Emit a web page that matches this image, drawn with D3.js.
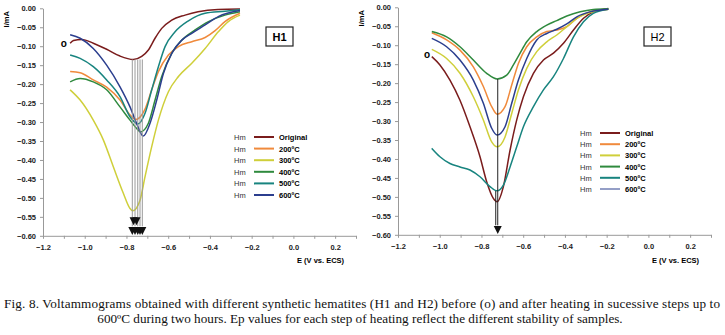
<!DOCTYPE html>
<html>
<head>
<meta charset="utf-8">
<script src="https://cdn.jsdelivr.net/npm/d3@7"></script>
<style>
  body { margin: 0; background: #fff; }
  svg { display: block; }
  .axis path, .axis line { stroke: #999; }
  .axis text { font-family: Arial, "Liberation Sans", sans-serif; font-size: 7.5px; font-weight: bold; fill: #222; }
  .caption { font-family: "Liberation Serif", "Times New Roman", serif; font-size: 13.2px; fill: #111; }
</style>
</head>
<body>
<svg id="chart" width="725" height="335"></svg>
<script>
// series labels and colours (same order in both panels)
const seriesNames = ['Original', '200ºC', '300ºC', '400ºC', '500ºC', '600ºC'];
const seriesColors = ['#7a1c1c', '#f08a3c', '#cfcf3a', '#2f8a3e', '#18847f', '#2b3e8e'];

const xTicks = [-1.2, -1.0, -0.8, -0.6, -0.4, -0.2, 0.0, 0.2];
const yTicks = [0, -0.05, -0.1, -0.15, -0.2, -0.25, -0.3, -0.35, -0.4, -0.45, -0.5, -0.55, -0.6];

// H1 curves: [E (V), I (mA)]
const h1Original = [[-1.07,-0.092],[-1.054,-0.085],[-1.014,-0.082],[-0.959,-0.092],[-0.895,-0.108],[-0.831,-0.126],[-0.767,-0.135],[-0.727,-0.127],[-0.695,-0.110],[-0.663,-0.079],[-0.631,-0.053],[-0.583,-0.031],[-0.519,-0.018],[-0.457,-0.009],[-0.361,-0.003],[-0.256,-0.002]];
const h1T200 = [[-1.07,-0.167],[-1.022,-0.170],[-0.959,-0.189],[-0.895,-0.208],[-0.831,-0.242],[-0.783,-0.281],[-0.755,-0.293],[-0.711,-0.266],[-0.679,-0.215],[-0.647,-0.167],[-0.599,-0.123],[-0.551,-0.101],[-0.487,-0.088],[-0.423,-0.077],[-0.375,-0.059],[-0.328,-0.035],[-0.256,-0.013]];
const h1T300 = [[-1.07,-0.215],[-1.022,-0.242],[-0.959,-0.295],[-0.911,-0.347],[-0.863,-0.418],[-0.815,-0.488],[-0.783,-0.528],[-0.770,-0.534],[-0.735,-0.506],[-0.711,-0.444],[-0.679,-0.365],[-0.647,-0.295],[-0.599,-0.220],[-0.551,-0.180],[-0.487,-0.145],[-0.423,-0.106],[-0.360,-0.062],[-0.312,-0.035],[-0.256,-0.018]];
const h1T400 = [[-1.07,-0.194],[-1.022,-0.185],[-0.959,-0.194],[-0.895,-0.215],[-0.831,-0.260],[-0.783,-0.295],[-0.751,-0.317],[-0.733,-0.326],[-0.695,-0.303],[-0.663,-0.242],[-0.631,-0.180],[-0.583,-0.119],[-0.535,-0.084],[-0.471,-0.057],[-0.407,-0.035],[-0.328,-0.018],[-0.256,-0.009]];
const h1T500 = [[-1.07,-0.123],[-1.022,-0.132],[-0.959,-0.154],[-0.895,-0.189],[-0.831,-0.233],[-0.783,-0.286],[-0.745,-0.305],[-0.711,-0.277],[-0.679,-0.215],[-0.647,-0.154],[-0.615,-0.101],[-0.567,-0.062],[-0.503,-0.033],[-0.423,-0.013],[-0.328,-0.008],[-0.256,-0.004]];
const h1T600 = [[-1.07,-0.070],[-1.022,-0.079],[-0.959,-0.106],[-0.895,-0.150],[-0.831,-0.207],[-0.783,-0.260],[-0.751,-0.304],[-0.720,-0.337],[-0.687,-0.303],[-0.655,-0.242],[-0.623,-0.172],[-0.583,-0.119],[-0.535,-0.084],[-0.487,-0.066],[-0.423,-0.044],[-0.360,-0.022],[-0.256,-0.006]];

// H2 curves
const h2Original = [[-1.038,-0.130],[-0.999,-0.152],[-0.951,-0.192],[-0.903,-0.245],[-0.855,-0.315],[-0.807,-0.394],[-0.775,-0.460],[-0.743,-0.504],[-0.725,-0.513],[-0.695,-0.473],[-0.663,-0.377],[-0.631,-0.297],[-0.599,-0.236],[-0.551,-0.174],[-0.503,-0.139],[-0.455,-0.121],[-0.407,-0.095],[-0.359,-0.060],[-0.311,-0.029],[-0.264,-0.012],[-0.192,-0.003]];
const h2T200 = [[-1.038,-0.067],[-0.967,-0.086],[-0.903,-0.113],[-0.839,-0.157],[-0.791,-0.209],[-0.751,-0.262],[-0.725,-0.282],[-0.687,-0.262],[-0.655,-0.205],[-0.623,-0.148],[-0.583,-0.104],[-0.535,-0.078],[-0.487,-0.064],[-0.439,-0.060],[-0.391,-0.051],[-0.343,-0.029],[-0.280,-0.012],[-0.192,-0.005]];
const h2T300 = [[-1.038,-0.111],[-0.967,-0.135],[-0.903,-0.174],[-0.839,-0.236],[-0.791,-0.297],[-0.751,-0.355],[-0.725,-0.368],[-0.687,-0.342],[-0.655,-0.280],[-0.623,-0.218],[-0.583,-0.161],[-0.535,-0.117],[-0.487,-0.091],[-0.439,-0.073],[-0.391,-0.051],[-0.343,-0.029],[-0.280,-0.014],[-0.192,-0.005]];
const h2T400 = [[-1.038,-0.064],[-0.967,-0.078],[-0.903,-0.104],[-0.839,-0.139],[-0.775,-0.174],[-0.725,-0.189],[-0.679,-0.179],[-0.647,-0.152],[-0.615,-0.121],[-0.583,-0.091],[-0.535,-0.064],[-0.487,-0.047],[-0.439,-0.035],[-0.391,-0.023],[-0.327,-0.012],[-0.264,-0.006],[-0.192,-0.004]];
const h2T500 = [[-1.038,-0.372],[-0.999,-0.394],[-0.951,-0.412],[-0.903,-0.421],[-0.855,-0.429],[-0.807,-0.447],[-0.759,-0.473],[-0.725,-0.484],[-0.695,-0.469],[-0.663,-0.421],[-0.631,-0.368],[-0.599,-0.315],[-0.551,-0.262],[-0.503,-0.218],[-0.455,-0.183],[-0.407,-0.135],[-0.359,-0.078],[-0.311,-0.038],[-0.264,-0.016],[-0.192,-0.005]];
const h2T600 = [[-1.038,-0.082],[-0.967,-0.104],[-0.903,-0.139],[-0.839,-0.192],[-0.791,-0.253],[-0.751,-0.319],[-0.725,-0.337],[-0.687,-0.315],[-0.655,-0.253],[-0.623,-0.192],[-0.583,-0.135],[-0.535,-0.086],[-0.487,-0.069],[-0.439,-0.058],[-0.391,-0.044],[-0.343,-0.025],[-0.280,-0.012],[-0.192,-0.005]];

// peak potentials (Ep) marked with arrows
const h1Ep = [-0.772, -0.759, -0.746, -0.735, -0.724];
const h1EpUpper = [-0.766, -0.752];
const h2Ep = [-0.722];

const svg = d3.select('#chart');
const font = 'Arial, "Liberation Sans", sans-serif';

function drawPanel(opts) {
    const x = d3.scaleLinear().domain([-1.2, 0.3]).range([opts.left, opts.left + 313]);
    const y = d3.scaleLinear().domain([0, -0.6]).range([opts.top, opts.top + 227.5]);
    const g = svg.append('g');

    // axes
    g.append('g')
        .attr('class', 'axis')
        .attr('transform', `translate(0,${y(-0.6)})`)
        .call(d3.axisBottom(x).tickValues(d3.range(-1.2, 0.31, 0.1)).tickSize(3).tickSizeOuter(0)
            .tickFormat(d => xTicks.some(t => Math.abs(t - d) < 1e-6) ? d3.format('.1f')(d) : ''))
        .call(a => a.selectAll('text').attr('dy', '1.1em'));

    g.append('g')
        .attr('class', 'axis')
        .attr('transform', `translate(${x(-1.2)},0)`)
        .call(d3.axisLeft(y).tickValues(yTicks).tickSize(3).tickSizeOuter(0).tickFormat(d3.format('.2f')))
        .call(a => a.selectAll('text').attr('x', -7));

    g.append('text')
        .attr('transform', `translate(${opts.left - 34},${opts.top + 11}) rotate(-90)`)
        .attr('text-anchor', 'middle')
        .attr('font-family', font).attr('font-size', 7.5).attr('font-weight', 'bold')
        .text('I/mA');

    g.append('text')
        .attr('x', x(0.13)).attr('y', 263)
        .attr('text-anchor', 'middle')
        .attr('font-family', font).attr('font-size', 7.5).attr('font-weight', 'bold')
        .text('E (V vs. ECS)');

    // curves
    const line = d3.line()
        .x(d => x(d[0]))
        .y(d => y(d[1]))
        .curve(d3.curveMonotoneX);

    opts.series.forEach((s, i) => {
        g.append('path')
            .attr('d', line(s))
            .attr('fill', 'none')
            .attr('stroke', seriesColors[i])
            .attr('stroke-width', 1.5);
    });

    // Ep guide lines and arrow heads
    const arrow = (ep, tip) => {
        const px = x(ep), py = y(tip);
        g.append('path')
            .attr('d', `M${px - 4},${py - 8}L${px + 4},${py - 8}L${px},${py}Z`)
            .attr('fill', '#111');
    };
    opts.ep.forEach(ep => {
        g.append('line')
            .attr('x1', x(ep)).attr('x2', x(ep))
            .attr('y1', y(opts.epTop)).attr('y2', y(-0.575))
            .attr('stroke', opts.epColor).attr('stroke-width', 1);
        arrow(ep, -0.598);
    });
    opts.epUpper.forEach(ep => arrow(ep, -0.572));
    if (opts.double) {
        g.append('line')
            .attr('x1', x(opts.ep[0]) - 2).attr('x2', x(opts.ep[0]) - 2)
            .attr('y1', y(opts.double)).attr('y2', y(-0.575))
            .attr('stroke', '#222').attr('stroke-width', 1);
    }

    // "o" marks the original curve
    g.append('text')
        .attr('x', x(opts.oMark[0])).attr('y', y(opts.oMark[1]))
        .attr('font-family', font).attr('font-size', 10).attr('font-weight', 'bold')
        .text('o');

    // title box
    g.append('rect')
        .attr('x', opts.box[0]).attr('y', opts.box[1])
        .attr('width', 27).attr('height', 19)
        .attr('fill', '#fff').attr('stroke', '#222').attr('stroke-width', 1.2);
    g.append('text')
        .attr('x', opts.box[0] + 13.5).attr('y', opts.box[1] + 13.5)
        .attr('text-anchor', 'middle')
        .attr('font-family', font).attr('font-size', 11)
        .attr('font-weight', opts.boldTitle ? 'bold' : 'normal')
        .text(opts.title);

    // legend
    const leg = g.append('g').attr('transform', `translate(${opts.legend[0]},${opts.legend[1]})`);
    seriesNames.forEach((name, i) => {
        const row = leg.append('g').attr('transform', `translate(0,${i * opts.legendStep})`);
        row.append('text')
            .attr('x', 0).attr('y', 3)
            .attr('font-family', font).attr('font-size', 7.5).attr('fill', '#333')
            .text('Hm');
        row.append('line')
            .attr('x1', 20).attr('x2', 40)
            .attr('stroke', seriesColors[i])
            .attr('stroke-width', i === 5 && opts.thinLast ? 1 : 2);
        row.append('text')
            .attr('x', 45).attr('y', 3)
            .attr('font-family', font).attr('font-size', 7.5).attr('font-weight', 'bold')
            .text(name);
    });
}

drawPanel({
    left: 43, top: 8.3, title: 'H1', boldTitle: true, box: [266, 27],
    series: [h1Original, h1T200, h1T300, h1T400, h1T500, h1T600],
    ep: h1Ep, epUpper: h1EpUpper, epTop: -0.135, epColor: '#9a9a9a',
    oMark: [-1.115, -0.102], legend: [234, 137], legendStep: 11.6, thinLast: false
});

drawPanel({
    left: 398, top: 7.3, title: 'H2', boldTitle: false, box: [644, 27],
    series: [h2Original, h2T200, h2T300, h2T400, h2T500, h2T600],
    ep: h2Ep, epUpper: [], epTop: -0.189, epColor: '#222', double: -0.484,
    oMark: [-1.075, -0.133], legend: [580, 133], legendStep: 11.2, thinLast: true
});

// caption
svg.append('text')
    .attr('class', 'caption')
    .attr('x', 4).attr('y', 308)
    .attr('textLength', 716).attr('lengthAdjust', 'spacing')
    .text('Fig. 8. Voltammograms obtained with different synthetic hematites (H1 and H2) before (o) and after heating in sucessive steps up to');
svg.append('text')
    .attr('class', 'caption')
    .attr('x', 360).attr('y', 323)
    .attr('text-anchor', 'middle')
    .text('600ºC during two hours. Ep values for each step of heating reflect the different stability of samples.');
</script>
</body>
</html>
